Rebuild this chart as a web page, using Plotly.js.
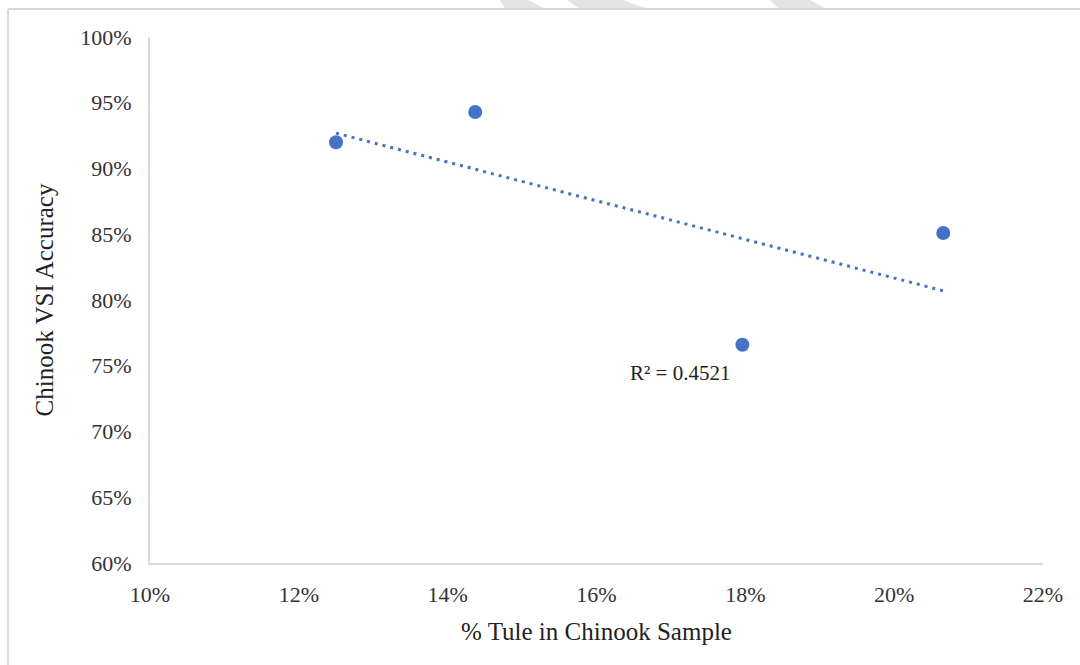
<!DOCTYPE html>
<html>
<head>
<meta charset="utf-8">
<script src="https://cdn.plot.ly/plotly-3.0.1.min.js"></script>
<style>html,body{margin:0;padding:0;background:#fff;}#chart{width:1080px;height:665px;}</style>
</head>
<body>
<div id="chart"></div>
<script>
// ---- data ----
const tulePct = [12.5, 14.37, 17.96, 20.66];      // % Tule in Chinook Sample
const vsiAccuracy = [92.0, 94.3, 76.6, 85.1];     // Chinook VSI Accuracy (%)
const xTickVals = [10, 12, 14, 16, 18, 20, 22];
const xTickText = ['10%', '12%', '14%', '16%', '18%', '20%', '22%'];
const yTickVals = [60, 65, 70, 75, 80, 85, 90, 95, 100];
const yTickText = ['60%', '65%', '70%', '75%', '80%', '85%', '90%', '95%', '100%'];
const rSquaredLabel = 'R² = 0.4521';
const rLabelPos = [17.12, 74.45];

// linear trendline (least squares) from the data
const n = tulePct.length;
const mx = tulePct.reduce((a, b) => a + b, 0) / n;
const my = vsiAccuracy.reduce((a, b) => a + b, 0) / n;
let sxy = 0, sxx = 0;
for (let i = 0; i < n; i++) { sxy += (tulePct[i] - mx) * (vsiAccuracy[i] - my); sxx += (tulePct[i] - mx) ** 2; }
const slope = sxy / sxx, intercept = my - slope * mx;
const xMin = Math.min(...tulePct), xMax = Math.max(...tulePct);
const trendX = [xMin, xMax];
const trendY = trendX.map(x => intercept + slope * x);

const W = 1080, H = 665, L = 150, R = 37, T = 37, B = 102;
const pw = W - L - R, ph = H - T - B;
const px = x => (x - L) / pw;
const py = y => (H - B - y) / ph;

const blue = '#4472C4';
const grey = '#d9d9d9';
const stripe = '#e3e3e3';

function poly(pts) {
  return 'M' + pts.map(p => px(p[0]) + ',' + py(p[1])).join(' L') + ' Z';
}

const shapes = [
  // outer frame
  {type: 'line', xref: 'paper', yref: 'paper', x0: px(8), y0: py(9), x1: px(1082), y1: py(9), line: {color: grey, width: 2}},
  {type: 'line', xref: 'paper', yref: 'paper', x0: px(8), y0: py(9), x1: px(8), y1: py(668), line: {color: grey, width: 2}},
  // watermark fragments
  {type: 'path', xref: 'paper', yref: 'paper', path: poly([[500, 0], [528, 0], [548, 10], [506, 10]]), fillcolor: stripe, line: {width: 0}, layer: 'below'},
  {type: 'path', xref: 'paper', yref: 'paper', path: poly([[567, 0], [623, 0], [651, 10], [581, 10]]), fillcolor: stripe, line: {width: 0}, layer: 'below'},
  {type: 'path', xref: 'paper', yref: 'paper', path: poly([[770, 0], [810, 0], [828, 10], [780, 10]]), fillcolor: stripe, line: {width: 0}, layer: 'below'}
];

const traces = [
  {
    x: trendX, y: trendY, type: 'scatter', mode: 'lines',
    line: {color: blue, width: 3, dash: '3px,5px'},
    hoverinfo: 'skip', showlegend: false
  },
  {
    x: tulePct, y: vsiAccuracy, type: 'scatter', mode: 'markers',
    marker: {color: blue, size: 14},
    showlegend: false
  }
];

const serif = '"Liberation Serif", "Times New Roman", serif';
const tickFont = {family: serif, size: 22, color: '#333333'};
const titleFont = {family: serif, size: 25, color: '#222222'};

const layout = {
  width: W, height: H,
  margin: {l: L, r: R, t: T, b: B, pad: 0},
  paper_bgcolor: '#ffffff', plot_bgcolor: '#ffffff',
  showlegend: false,
  xaxis: {
    range: [10, 22], tickvals: xTickVals, ticktext: xTickText,
    showgrid: false, zeroline: false, showline: true, linecolor: grey, linewidth: 2,
    ticks: '', tickfont: tickFont, ticklabelstandoff: 11,
    title: {text: '% Tule in Chinook Sample', font: titleFont, standoff: 16}
  },
  yaxis: {
    range: [60, 100], tickvals: yTickVals, ticktext: yTickText,
    showgrid: false, zeroline: false, showline: true, linecolor: grey, linewidth: 2,
    ticks: '', tickfont: tickFont, ticklabelstandoff: 12,
    title: {text: 'Chinook VSI Accuracy', font: titleFont, standoff: 20}
  },
  annotations: [{
    x: rLabelPos[0], y: rLabelPos[1], xref: 'x', yref: 'y',
    text: rSquaredLabel, showarrow: false,
    font: {family: serif, size: 21, color: '#222222'}
  }],
  shapes: shapes
};

Plotly.newPlot('chart', traces, layout, {displayModeBar: false, staticPlot: true});
</script>
</body>
</html>
